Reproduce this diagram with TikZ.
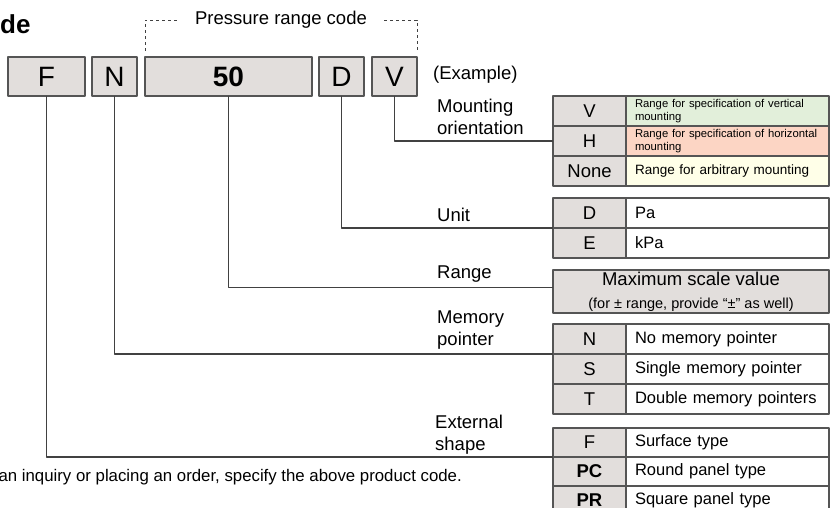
\documentclass[tikz,border=0pt]{standalone}
\usepackage{fontspec}
\setmainfont{Liberation Sans}
\usetikzlibrary{positioning}
\definecolor{cellgray}{RGB}{226,222,220}
\definecolor{edgegray}{RGB}{85,85,85}
\definecolor{linegray}{RGB}{65,65,65}
\definecolor{vertgreen}{RGB}{226,239,218}
\definecolor{horzsalmon}{RGB}{252,213,196}
\definecolor{freeivory}{RGB}{255,255,232}

\begin{document}
\begin{tikzpicture}[x=1pt,y=-1pt,line join=round,
  codebox/.style={draw=edgegray, line width=1.2pt, fill=cellgray, minimum height=39pt, inner sep=0pt, outer sep=0pt, font=\fontsize{28}{28}\selectfont},
  keycell/.style={draw=edgegray, line width=1.2pt, fill=cellgray, minimum width=73pt, minimum height=30pt, inner sep=0pt, outer sep=0pt, font=\fontsize{18.5}{18.5}\selectfont},
  desccell/.style={draw=edgegray, line width=1.2pt, fill=white, text width=185pt, inner xsep=9pt, inner ysep=0pt, minimum height=30pt, outer sep=0pt, align=left, font=\fontsize{16.5}{18}\selectfont},
  smalldesc/.style={desccell, font=\fontsize{11.3}{12.7}\selectfont},
  lbl/.style={anchor=west, align=left, inner sep=0pt, font=\fontsize{18.5}{22}\selectfont},
  conn/.style={draw=linegray, line width=1.2pt},
  bracket/.style={draw=linegray, line width=0.9pt, dash pattern=on 3pt off 3pt}]
\useasboundingbox (0,0) rectangle (835,508);
\clip (0,0) rectangle (835,508);

% title and code boxes
\node[anchor=base west, inner sep=0pt, font=\bfseries\fontsize{26}{26}\selectfont] (title) at (0,33.5) {de};
\node[codebox, minimum width=77pt, anchor=north west] (cf) at (8,57) {F};
\node[codebox, minimum width=45pt, right=7pt of cf] (cn) {N};
\node[codebox, minimum width=167pt, right=8pt of cn] (c50) {\textbf{50}};
\node[codebox, minimum width=45pt, right=7pt of c50] (cd) {D};
\node[codebox, minimum width=45pt, right=8pt of cd] (cv) {V};

\node[inner sep=0pt, font=\fontsize{18.5}{22}\selectfont] (prc) at (281,20) {Pressure range code};
\draw[bracket] ([xshift=-18pt]prc.west) -| ([yshift=5pt]c50.north west);
\draw[bracket] ([xshift=17pt]prc.east) -| ([yshift=5pt]cv.north east);
\node[lbl] (example) at (433,75) {(Example)};

% mounting orientation
\node[keycell, anchor=north west] (mv) at (553,96) {V};
\node[smalldesc, fill=vertgreen, right=0pt of mv] (mvtxt) {Range for specification of vertical\\mounting};
\node[keycell, below=0pt of mv] (mh) {H};
\node[smalldesc, fill=horzsalmon, right=0pt of mh] (mhtxt) {Range for specification of horizontal\\mounting};
\node[keycell, below=0pt of mh] (mnone) {None};
\node[desccell, fill=freeivory, right=0pt of mnone, font=\fontsize{13.5}{15}\selectfont] (mnonetxt) {Range for arbitrary mounting};

% unit
\node[keycell, anchor=north west] (ud) at (553,198) {D};
\node[desccell, right=0pt of ud] (udtxt) {Pa};
\node[keycell, below=0pt of ud] (ue) {E};
\node[desccell, right=0pt of ue] (uetxt) {kPa};

% range
\node[draw=edgegray, line width=1.2pt, fill=cellgray, minimum width=276pt, minimum height=43pt, inner sep=0pt, outer sep=0pt, anchor=north west, align=center, font=\fontsize{18.5}{23}\selectfont] (rng) at (553,270) {Maximum scale value\\{\fontsize{14.5}{16}\selectfont (for ± range, provide “±” as well)}};

% memory pointer
\node[keycell, anchor=north west] (pn) at (553,324) {N};
\node[desccell, right=0pt of pn] (pntxt) {No memory pointer};
\node[keycell, below=0pt of pn] (ps) {S};
\node[desccell, right=0pt of ps] (pstxt) {Single memory pointer};
\node[keycell, below=0pt of ps] (pt) {T};
\node[desccell, right=0pt of pt] (pttxt) {Double memory pointers};

% external shape
\node[keycell, minimum height=29pt, anchor=north west] (sf) at (553,428) {F};
\node[desccell, minimum height=29pt, right=0pt of sf] (sftxt) {Surface type};
\node[keycell, minimum height=29pt, below=0pt of sf] (spc) {\textbf{PC}};
\node[desccell, minimum height=29pt, right=0pt of spc] (spctxt) {Round panel type};
\node[keycell, minimum height=29pt, below=0pt of spc] (spr) {\textbf{PR}};
\node[desccell, minimum height=29pt, right=0pt of spr] (sprtxt) {Square panel type};

% labels
\node[lbl] (mount) at (437,117) {Mounting\\orientation};
\node[lbl] (unit) at (437,215) {Unit};
\node[lbl] (range) at (437,274) {Range};
\node[lbl] (memory) at (437,330) {Memory\\pointer};
\node[lbl] (external) at (435,435) {External\\shape};

% connectors
\draw[conn] (cv.south) |- (mh.west);
\draw[conn] (cd.south) |- (ud.south west);
\draw[conn] (c50.south) |- ([yshift=4pt]rng.west);
\draw[conn] (cn.south) |- (pn.south west);
\draw[conn] (cf.south) |- (sf.south west);

\node[anchor=east, inner sep=0pt, font=\fontsize{16.8}{20}\selectfont] (note) at (462,477) {an inquiry or placing an order, specify the above product code.};
\end{tikzpicture}
\end{document}
